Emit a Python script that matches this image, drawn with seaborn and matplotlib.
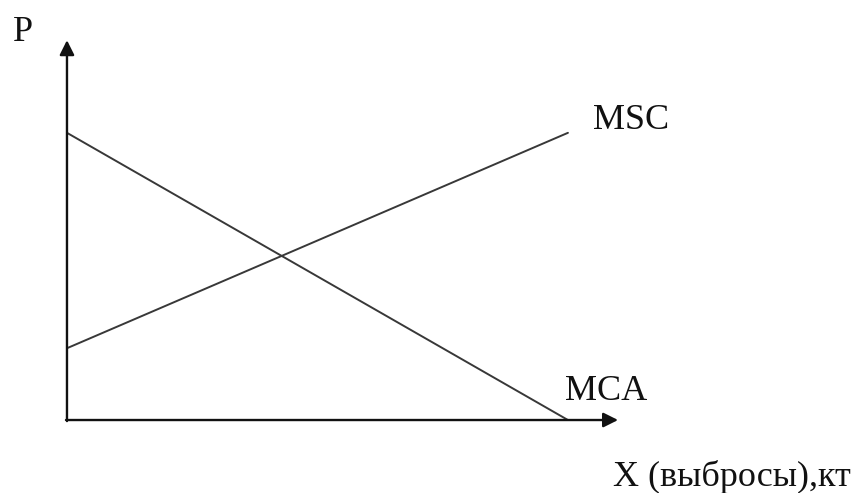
import matplotlib
matplotlib.use("Agg")
import matplotlib.pyplot as plt
import seaborn as sns
import pandas as pd

# Data (abstract economic units)
x_vals = [0, 10]
mca_vals = [8, 0]   # marginal cost of abatement
msc_vals = [2, 8]   # marginal social cost
curve_names = ["MCA", "MSC"]
x_axis_len = 11.0
y_axis_len = 10.58

sns.set_theme(style="white")
plt.rcParams["font.family"] = ["Liberation Serif", "DejaVu Serif"]

df = pd.DataFrame({
    "x": x_vals + x_vals,
    "P": mca_vals + msc_vals,
    "curve": [curve_names[0]] * 2 + [curve_names[1]] * 2,
})

fig = plt.figure(figsize=(8.6, 4.93), dpi=100)
ax = fig.add_axes([0, 0, 1, 1])
sns.lineplot(data=df, x="x", y="P", hue="curve", palette=["#383838", "#383838"],
             linewidth=1.4, legend=False, ax=ax)

ax.set_xlim(-1.337, 15.83)
ax.set_ylim(-2.033, 11.70)
ax.axis("off")

arrow = dict(arrowstyle="-|>", color="#111111", lw=1.7, mutation_scale=22,
             shrinkA=0, shrinkB=0)
ax.annotate("", xy=(x_axis_len, 0), xytext=(-0.02, 0), arrowprops=arrow)
ax.annotate("", xy=(0, y_axis_len), xytext=(0, -0.03), arrowprops=arrow)

fs = 26
ax.text(-1.08, 10.55, "P", fontsize=fs, ha="left", va="baseline", color="#111111")
ax.text(10.5, 8.1, "MSC", fontsize=fs, ha="left", va="baseline", color="#111111")
ax.text(9.94, 0.557, "MCA", fontsize=fs, ha="left", va="baseline", color="#111111")
ax.text(10.9, -1.84, "X (выбросы),кт", fontsize=fs, ha="left", va="baseline", color="#111111")

fig.savefig("out.png", dpi=100, facecolor="white")
